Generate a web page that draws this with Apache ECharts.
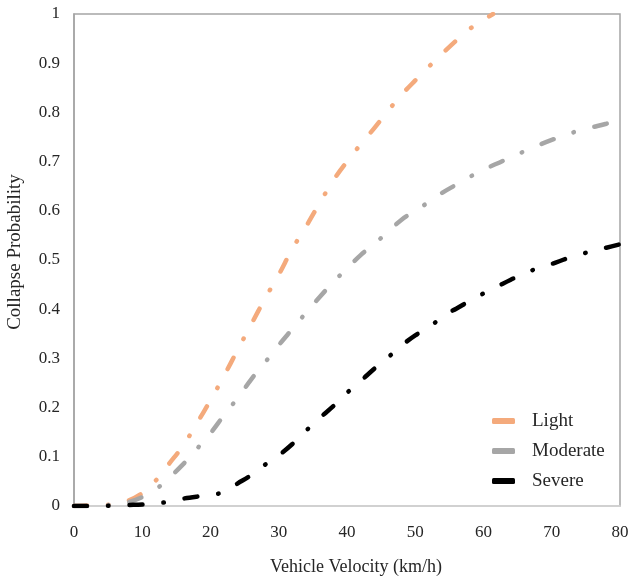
<!DOCTYPE html>
<html>
<head>
<meta charset="utf-8">
<script src="https://cdn.jsdelivr.net/npm/echarts@6/dist/echarts.min.js"></script>
<style>
html,body{margin:0;padding:0;background:#fff;}
#chart{width:630px;height:583px;}
</style>
</head>
<body>
<div id="chart"></div>
<script>
const seriesNames = ['Light', 'Moderate', 'Severe'];

const lightX = [0,2,4,6,8,10,12,14,16,18,20,22,24,26,28,30,32,34,36,38,40,42,44,46,48,50,52,54,56,58,60,61.4];
const lightY = [0,0.001,0.002,0.004,0.011,0.026,0.052,0.087,0.123,0.168,0.215,0.265,0.318,0.37,0.422,0.47,0.523,0.568,0.616,0.662,0.70,0.735,0.768,0.803,0.836,0.865,0.893,0.92,0.946,0.97,0.988,1.0];

const moderateX = [0,2,4,6,8,10,12,14,16,18,20,22,24,26,28,30,32,34,36,38,40,42,44,46,48,50,52,54,56,58,60,62,64,66,68,70,72,74,76,78,80];
const moderateY = [0,0,0.001,0.003,0.008,0.018,0.034,0.058,0.085,0.116,0.148,0.185,0.22,0.258,0.292,0.327,0.36,0.393,0.425,0.455,0.483,0.51,0.533,0.557,0.582,0.6,0.618,0.637,0.653,0.669,0.684,0.696,0.709,0.721,0.733,0.744,0.754,0.763,0.77,0.777,0.785];

const severeX = [0,4,6,8,10,12,14,16,18,20,22,24,26,28,30,32,34,36,38,40,42,44,46,48,50,52,54,56,58,60,62,64,66,68,70,72,74,76,78,80];
const severeY = [0,0,0.001,0.002,0.003,0.005,0.009,0.015,0.019,0.022,0.029,0.046,0.063,0.084,0.103,0.126,0.153,0.179,0.203,0.23,0.254,0.279,0.302,0.326,0.347,0.362,0.386,0.401,0.417,0.432,0.446,0.46,0.472,0.484,0.492,0.502,0.511,0.518,0.525,0.532];

const xTicks = [0,10,20,30,40,50,60,70,80];
const yTicks = [0,0.1,0.2,0.3,0.4,0.5,0.6,0.7,0.8,0.9,1];

const colors = ['#F4AA7C', '#A6A6A6', '#000000'];
const font = "'Liberation Serif', 'Times New Roman', serif";

function pairs(xs, ys) { return xs.map((x, i) => [x, ys[i]]); }

const dash = [13, 21, 0.5, 21];

const chart = echarts.init(document.getElementById('chart'), null, {renderer: 'canvas'});
const mk = (name, data, color) => ({
  name: name,
  type: 'line',
  data: data,
  smooth: 0.35,
  showSymbol: false,
  symbol: 'none',
  color: color,
  lineStyle: {color: color, width: 4.5, type: dash, cap: 'round'},
  itemStyle: {color: color},
  z: 3
});

chart.setOption({
  animation: false,
  backgroundColor: '#ffffff',
  grid: {left: 74, right: 10, top: 14, bottom: 77, outerBoundsMode: 'none', containLabel: false,
    show: true, borderColor: '#A5A5A5', borderWidth: 1.5, backgroundColor: 'transparent'},
  legend: {
    orient: 'vertical',
    left: 492,
    top: 411,
    padding: 0,
    itemWidth: 23,
    itemHeight: 6,
    itemGap: 10,
    icon: 'roundRect',
    textStyle: {fontFamily: font, fontSize: 19, color: '#262626', padding: [0,0,0,12], lineHeight: 20},
    data: seriesNames
  },
  xAxis: {
    type: 'value',
    min: 0, max: 80, interval: 10,
    name: 'Vehicle Velocity (km/h)',
    nameLocation: 'middle',
    nameGap: 52,
    nameTextStyle: {fontFamily: font, fontSize: 18, color: '#262626', padding: [0,0,0,18]},
    axisLine: {show: true, lineStyle: {color: '#D9D9D9', width: 1.5}},
    axisTick: {show: false},
    splitLine: {show: false},
    axisLabel: {fontFamily: font, fontSize: 17, color: '#262626', margin: 18,
      formatter: v => xTicks.includes(v) ? String(v) : ''}
  },
  yAxis: {
    type: 'value',
    min: 0, max: 1, interval: 0.1,
    name: 'Collapse Probability',
    nameLocation: 'middle',
    nameGap: 49,
    nameTextStyle: {fontFamily: font, fontSize: 19, color: '#262626', padding: [0,0,0,16]},
    axisLine: {show: true, lineStyle: {color: '#A5A5A5', width: 1.5}},
    axisTick: {show: false},
    splitLine: {show: false},
    axisLabel: {fontFamily: font, fontSize: 17, color: '#262626', margin: 14,
      formatter: v => { const r = Math.round(v * 10) / 10; return yTicks.includes(r) ? String(r) : ''; }}
  },
  series: [
    mk(seriesNames[0], pairs(lightX, lightY), colors[0]),
    mk(seriesNames[1], pairs(moderateX, moderateY), colors[1]),
    mk(seriesNames[2], pairs(severeX, severeY), colors[2])
  ]
});
</script>
</body>
</html>
